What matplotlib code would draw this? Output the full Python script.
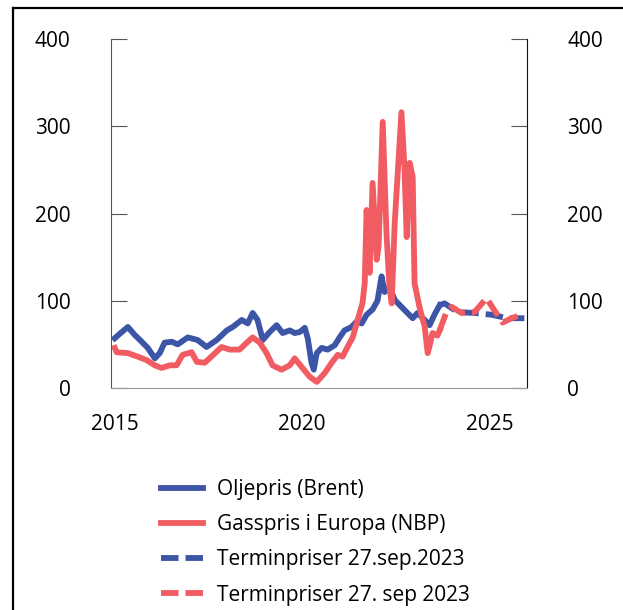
import matplotlib
matplotlib.use("Agg")
import matplotlib.pyplot as plt
from matplotlib.lines import Line2D

plt.rcParams['font.family'] = ['Open Sans', 'DejaVu Sans']

# oil price (Brent), decimal years
oil_t = [2015.00, 2015.13, 2015.35, 2015.53, 2015.72, 2015.88, 2016.07, 2016.20, 2016.33,
         2016.52, 2016.68, 2016.95, 2017.21, 2017.27, 2017.45, 2017.72, 2017.99, 2018.15,
         2018.39, 2018.55, 2018.68, 2018.81, 2018.95, 2019.13, 2019.32, 2019.48, 2019.67,
         2019.80, 2019.93, 2020.07, 2020.15, 2020.25, 2020.31, 2020.39, 2020.52, 2020.68,
         2020.87, 2021.00, 2021.13, 2021.32, 2021.45, 2021.59, 2021.72, 2021.88, 2022.01,
         2022.12, 2022.20, 2022.33, 2022.47, 2022.65, 2022.81, 2022.95, 2023.08, 2023.27,
         2023.40, 2023.53, 2023.67]
oil_v = [57, 62, 70, 61, 53, 46, 34, 40, 52,
         53, 50, 58, 55, 53, 47, 55, 66, 70,
         78, 74, 86, 78, 55, 64, 72, 63, 66,
         63, 64, 69, 57, 29, 21, 40, 46, 44,
         49, 58, 66, 70, 76, 74, 84, 90, 100,
         128, 110, 116, 101, 93, 86, 80, 86, 78,
         72, 84, 95]

# gas price Europe (NBP)
gas_t = [2015.00, 2015.05, 2015.35, 2015.61, 2015.85, 2016.07, 2016.25, 2016.47, 2016.65,
         2016.81, 2017.05, 2017.19, 2017.40, 2017.53, 2017.85, 2018.07, 2018.33, 2018.60,
         2018.68, 2018.87, 2019.05, 2019.21, 2019.45, 2019.67, 2019.80, 2019.99, 2020.20,
         2020.39, 2020.60, 2020.79, 2020.95, 2021.08, 2021.21, 2021.35, 2021.48, 2021.61,
         2021.67, 2021.72, 2021.80, 2021.88, 2021.99, 2022.04, 2022.15, 2022.25, 2022.33,
         2022.39, 2022.47, 2022.55, 2022.65, 2022.73, 2022.79, 2022.87, 2022.95, 2023.00,
         2023.13, 2023.27, 2023.35, 2023.40, 2023.48, 2023.61, 2023.67]
gas_v = [46, 41, 40, 36, 32, 26, 23, 26, 26,
         38, 41, 30, 29, 34, 47, 44, 44, 55,
         58, 52, 40, 26, 21, 26, 34, 24, 13,
         7, 17, 29, 38, 36, 47, 58, 78, 97,
         120, 204, 132, 235, 147, 162, 305, 178, 116,
         97, 189, 246, 316, 253, 173, 258, 242, 120,
         93, 70, 40, 48, 63, 60, 66]

# forward prices 27 Sep 2023
oil_fwd_t = [2023.67, 2023.80, 2024.15, 2024.60, 2025.05, 2025.48, 2025.93]
oil_fwd_v = [95, 97, 87, 86, 84, 80, 80]
gas_fwd_t = [2023.67, 2023.85, 2023.99, 2024.25, 2024.60, 2024.92, 2025.13, 2025.35, 2025.59, 2025.85]
gas_fwd_v = [66, 87, 93, 86, 87, 103, 89, 75, 80, 84]

blue = '#3d55a7'
red = '#f15c62'
lw = 4.2
dash = (0, (3, 1.2))

fig = plt.figure(figsize=(6.23, 6.10), dpi=100)
ax = fig.add_axes([111/623, 1-388/610, 416/623, 349/610])

ax.plot(oil_t, oil_v, color=blue, lw=lw, solid_joinstyle='round', label='Oljepris (Brent)')
ax.plot(gas_t, gas_v, color=red, lw=lw, solid_joinstyle='round', label='Gasspris i Europa (NBP)')
ax.plot(oil_fwd_t, oil_fwd_v, color=blue, lw=lw, ls=dash, label='Terminpriser 27.sep.2023')
ax.plot(gas_fwd_t, gas_fwd_v, color=red, lw=lw, ls=dash, label='Terminpriser 27. sep 2023')

ax.set_xlim(2014.9, 2026.0)
ax.set_ylim(0, 400)
ax.set_xticks([2015, 2020, 2025])
ax.set_yticks([0, 100, 200, 300, 400])

ax.spines['top'].set_visible(False)
ax.spines['left'].set_color('#555555')
ax.spines['bottom'].set_color('#999999')
ax.spines['right'].set_color('#111111')
ax.tick_params(axis='y', which='both', direction='in', length=11.5, color='#555555',
               left=True, right=True, labelleft=True, labelright=True, labelsize=15, pad=29)
ax.tick_params(axis='x', length=0, labelsize=15, pad=19)

ax.legend(loc='upper left', bbox_to_anchor=(161/623, 1-479/610), bbox_transform=fig.transFigure,
          frameon=False, fontsize=15, handlelength=2.0, handletextpad=0.67, labelspacing=0.68,
          borderpad=0, borderaxespad=0)

# border around the figure
fig.add_artist(Line2D([13/623, 13/623], [0, 1-8/610], transform=fig.transFigure, color='black', lw=1.6))
fig.add_artist(Line2D([13/623, 1], [1-8/610, 1-8/610], transform=fig.transFigure, color='black', lw=1.6))

fig.savefig('out.png', dpi=100)
